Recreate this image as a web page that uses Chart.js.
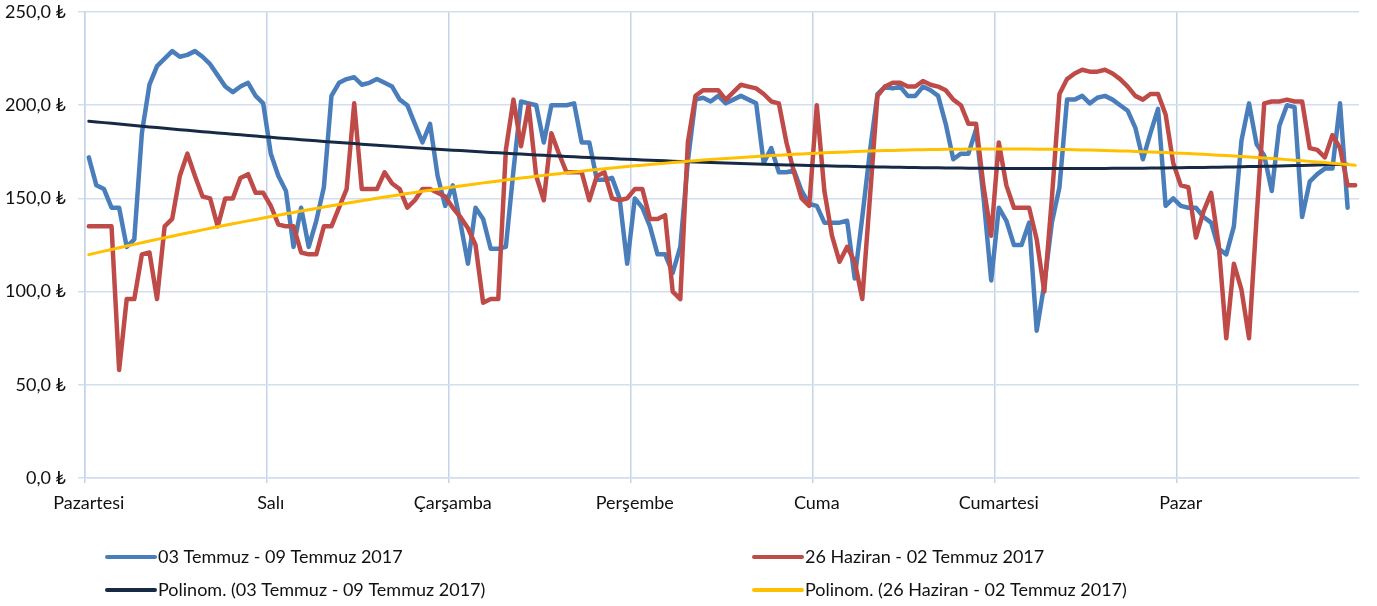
<!DOCTYPE html>
<html lang="tr">
<head>
<meta charset="utf-8">
<title>Haftalık saatlik fiyat</title>
<script src="https://cdn.jsdelivr.net/npm/chart.js@4.4.0/dist/chart.umd.min.js"></script>
<style>
  html, body { margin: 0; padding: 0; background: #fff; }
  #wrap { width: 1377px; height: 606px; }
</style>
</head>
<body>
<div id="wrap"><canvas id="weekChart" width="1377" height="606"></canvas></div>
<script>
const days = ['Pazartesi', 'Salı', 'Çarşamba', 'Perşembe', 'Cuma', 'Cumartesi', 'Pazar'];
const hoursPerDay = 24;
const yTicks = [0, 50, 100, 150, 200, 250];

const thisWeekName = '03 Temmuz - 09 Temmuz 2017';
const lastWeekName = '26 Haziran - 02 Temmuz 2017';

// 03-09 Temmuz, hourly (last hour missing)
const thisWeek = [
  172, 157, 155, 145, 145, 124, 128, 185, 211, 221, 225, 229, 226, 227, 229, 226, 222, 216, 210, 207, 210, 212, 205, 201,
  174, 162, 154, 124, 145, 124, 138, 156, 205, 212, 214, 215, 211, 212, 214, 212, 210, 203, 200, 190, 180, 190, 162, 146,
  157, 137, 115, 145, 139, 123, 123, 124, 165, 202, 201, 200, 180, 200, 200, 200, 201, 180, 180, 160, 160, 161, 150, 115,
  150, 145, 135, 120, 120, 110, 124, 170, 203, 204, 202, 205, 201, 203, 205, 203, 201, 169, 177, 164, 164, 165, 154, 147,
  146, 137, 137, 137, 138, 107, 140, 175, 206, 210, 209, 210, 205, 205, 210, 208, 205, 190, 171, 174, 174, 187, 150, 106,
  145, 138, 125, 125, 137, 79, 104, 137, 156, 203, 203, 205, 201, 204, 205, 203, 200, 197, 188, 171, 185, 198, 146, 150,
  146, 145, 145, 140, 137, 123, 120, 135, 181, 201, 179, 173, 154, 189, 200, 199, 140, 159, 163, 166, 166, 201, 145
];

// 26 Haziran - 02 Temmuz, hourly
const lastWeek = [
  135, 135, 135, 135, 58, 96, 96, 120, 121, 96, 135, 139, 162, 174, 162, 151, 150, 135, 150, 150, 161, 163, 153, 153,
  146, 136, 135, 135, 121, 120, 120, 135, 135, 145, 155, 201, 155, 155, 155, 164, 158, 155, 145, 149, 155, 155, 153, 151,
  145, 140, 134, 125, 94, 96, 96, 176, 203, 178, 200, 162, 149, 185, 174, 164, 164, 164, 149, 162, 164, 150, 149, 150,
  155, 155, 139, 139, 141, 100, 96, 180, 205, 208, 208, 208, 203, 207, 211, 210, 209, 206, 202, 201, 180, 164, 150, 146,
  200, 154, 130, 116, 124, 116, 96, 150, 205, 210, 212, 212, 210, 210, 213, 211, 210, 208, 203, 200, 190, 190, 156, 130,
  180, 157, 145, 145, 145, 128, 100, 150, 206, 214, 217, 219, 218, 218, 219, 217, 214, 210, 205, 203, 206, 206, 195, 169,
  157, 156, 129, 143, 153, 125, 75, 115, 101, 75, 140, 201, 202, 202, 203, 202, 202, 177, 176, 172, 184, 177, 157, 157
];

const labels = [];
days.forEach(day => {
  for (let h = 0; h < hoursPerDay; h++) {
    labels.push(day + ' ' + String(h).padStart(2, '0') + ':00');
  }
});

// 2nd order least squares trend, x = 1..n like Excel's "Polinom." trendline
function polyTrend(values) {
  const s = [0, 0, 0, 0, 0];
  const t = [0, 0, 0];
  values.forEach((y, i) => {
    const x = i + 1;
    let p = 1;
    for (let j = 0; j < 5; j++) {
      s[j] += p;
      if (j < 3) t[j] += p * y;
      p *= x;
    }
  });
  const m = [
    [s[0], s[1], s[2], t[0]],
    [s[1], s[2], s[3], t[1]],
    [s[2], s[3], s[4], t[2]]
  ];
  for (let c = 0; c < 3; c++) {
    for (let r = c + 1; r < 3; r++) {
      const f = m[r][c] / m[c][c];
      for (let k = c; k < 4; k++) m[r][k] -= f * m[c][k];
    }
  }
  const coef = [0, 0, 0];
  for (let r = 2; r >= 0; r--) {
    let sum = m[r][3];
    for (let k = r + 1; k < 3; k++) sum -= m[r][k] * coef[k];
    coef[r] = sum / m[r][r];
  }
  return values.map((_, i) => coef[0] + coef[1] * (i + 1) + coef[2] * (i + 1) * (i + 1));
}

const thisWeekTrend = polyTrend(thisWeek);
const lastWeekTrend = polyTrend(lastWeek);

const FONT = 'Lato, "Noto Sans", "DejaVu Sans", sans-serif';
const gridColor = '#d3deee';
const vGridColor = '#c5d4ea';

const legendItems = [
  { text: thisWeekName, color: '#4a7ebb', col: 0, row: 0 },
  { text: lastWeekName, color: '#be4b48', col: 1, row: 0 },
  { text: 'Polinom. (' + thisWeekName + ')', color: '#172a45', col: 0, row: 1 },
  { text: 'Polinom. (' + lastWeekName + ')', color: '#ffc000', col: 1, row: 1 }
];

const gridLegend = {
  id: 'gridLegend',
  afterDraw(chart) {
    const ctx = chart.ctx;
    const colX = [105, 752];
    const rowY = [557, 590];
    ctx.save();
    ctx.font = '18px ' + FONT;
    ctx.textBaseline = 'middle';
    ctx.textAlign = 'left';
    legendItems.forEach(item => {
      const x = colX[item.col];
      const y = rowY[item.row];
      ctx.strokeStyle = item.color;
      ctx.lineWidth = 4;
      ctx.lineCap = 'round';
      ctx.beginPath();
      ctx.moveTo(x + 2, y);
      ctx.lineTo(x + 50, y);
      ctx.stroke();
      ctx.fillStyle = '#111';
      ctx.fillText(item.text, x + 53, y);
    });
    ctx.restore();
  }
};

const ctx = document.getElementById('weekChart').getContext('2d');

new Chart(ctx, {
  type: 'line',
  data: {
    labels: labels,
    datasets: [
      {
        label: thisWeekName,
        data: thisWeek,
        borderColor: '#4a7ebb',
        borderWidth: 4.5,
        order: 3
      },
      {
        label: lastWeekName,
        data: lastWeek,
        borderColor: '#be4b48',
        borderWidth: 4.5,
        order: 2
      },
      {
        label: 'Polinom. (' + thisWeekName + ')',
        data: thisWeekTrend,
        borderColor: '#172a45',
        borderWidth: 3,
        order: 1
      },
      {
        label: 'Polinom. (' + lastWeekName + ')',
        data: lastWeekTrend,
        borderColor: '#ffc000',
        borderWidth: 3,
        order: 0
      }
    ]
  },
  options: {
    responsive: false,
    animation: false,
    devicePixelRatio: 1,
    layout: { padding: { top: 12, right: 18, left: 0, bottom: 0 } },
    elements: {
      point: { radius: 0 },
      line: { tension: 0, borderJoinStyle: 'round', borderCapStyle: 'round', fill: false }
    },
    plugins: {
      legend: { display: false },
      tooltip: { enabled: false },
      title: { display: false }
    },
    scales: {
      x: {
        type: 'category',
        offset: true,
        afterFit: scale => {
          scale.height = 128;
          scale.paddingLeft = 0;
          scale.paddingRight = 0;
        },
        grid: {
          offset: true,
          color: c => (c.index % hoursPerDay === 0 ? vGridColor : 'rgba(0,0,0,0)'),
          lineWidth: 1.5,
          tickLength: 5
        },
        border: { color: gridColor, width: 1.5 },
        ticks: {
          autoSkip: false,
          maxRotation: 0,
          padding: 9,
          color: '#111',
          font: { family: FONT, size: 18 },
          callback: (value, index) => (index % hoursPerDay === 0 ? days[index / hoursPerDay] : '')
        }
      },
      y: {
        min: yTicks[0],
        max: yTicks[yTicks.length - 1],
        afterFit: scale => {
          scale.width = 85;
          scale.paddingTop = 0;
          scale.paddingBottom = 0;
        },
        afterBuildTicks: scale => { scale.ticks = yTicks.map(v => ({ value: v })); },
        grid: { color: gridColor, lineWidth: 1.5, tickLength: 7 },
        border: { color: vGridColor, width: 1.5 },
        ticks: {
          padding: 12,
          color: '#111',
          font: { family: FONT, size: 18 },
          callback: v => v.toFixed(1).replace('.', ',') + ' ₺'
        }
      }
    }
  },
  plugins: [gridLegend]
});
</script>
</body>
</html>
